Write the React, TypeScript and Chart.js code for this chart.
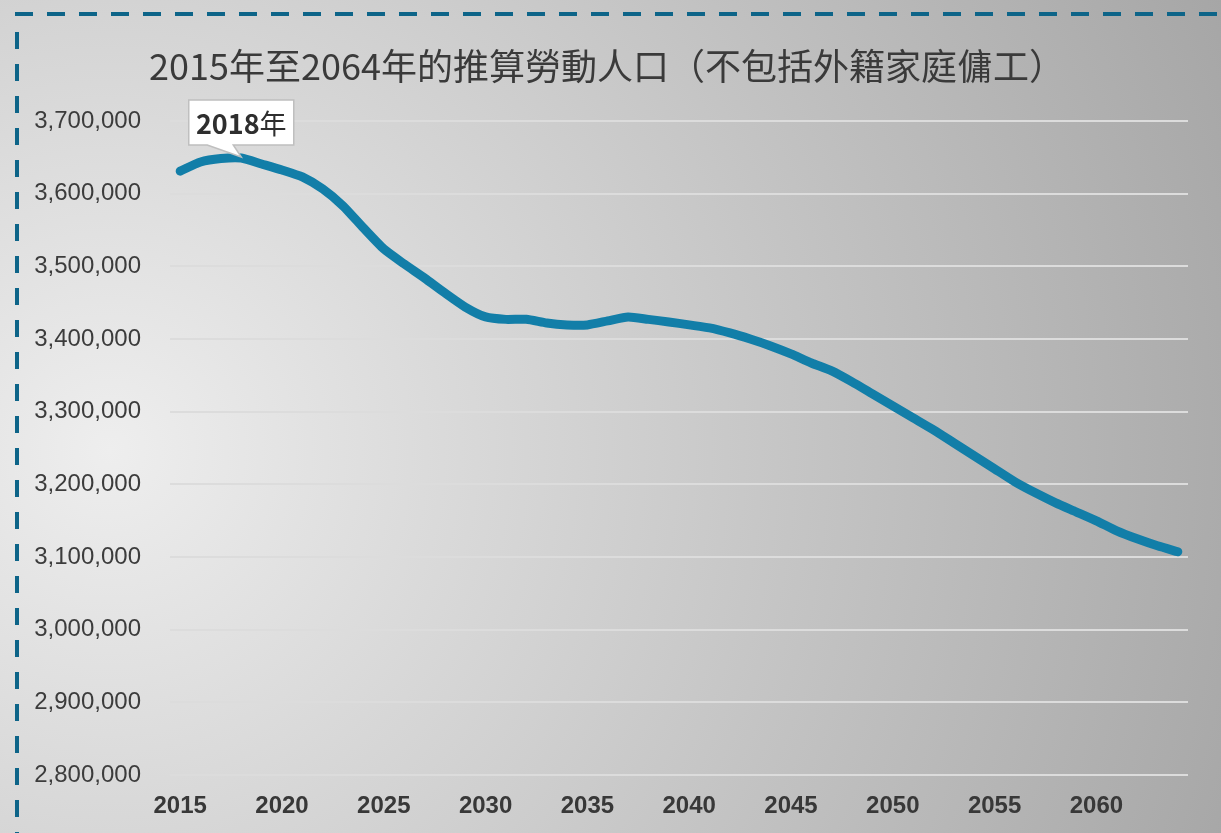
import React, { useEffect, useRef } from "react";
import { Chart, registerables } from "chart.js";

Chart.register(...registerables);

const years: string[] = [
  "2015", "2016", "2017", "2018", "2019", "2020", "2021", "2022", "2023", "2024",
  "2025", "2026", "2027", "2028", "2029", "2030", "2031", "2032", "2033", "2034",
  "2035", "2036", "2037", "2038", "2039", "2040", "2041", "2042", "2043", "2044",
  "2045", "2046", "2047", "2048", "2049", "2050", "2051", "2052", "2053", "2054",
  "2055", "2056", "2057", "2058", "2059", "2060", "2061", "2062", "2063", "2064",
];

const labourForce: number[] = [
  3631000, 3643600, 3648400, 3649100, 3640900, 3632600, 3623000, 3606500, 3583100, 3552800,
  3523900, 3503300, 3484000, 3463400, 3444000, 3430400, 3427000, 3427200, 3422000, 3419400,
  3419400, 3424900, 3430400, 3427000, 3423500, 3419400, 3415300, 3408400, 3400000, 3390500,
  3379500, 3367000, 3356100, 3341000, 3324500, 3308000, 3291500, 3275000, 3257100, 3239200,
  3221300, 3203400, 3188300, 3174500, 3162200, 3149800, 3136000, 3125000, 3115400, 3107200,
];

const titleText = "2015年至2064年的推算勞動人口（不包括外籍家庭傭工）";
const calloutYear = "2018";
const calloutSuffix = "年";
const yMin = 2800000;
const yMax = 3700000;
const yStep = 100000;

const W = 1221;
const H = 833;

const backgroundPlugin = {
  id: "pageBackground",
  beforeDraw(chart: any) {
    const ctx = chart.ctx as CanvasRenderingContext2D;
    ctx.save();
    const g = ctx.createRadialGradient(110, 450, 0, 110, 450, 1250);
    g.addColorStop(0, "#eeeeee");
    g.addColorStop(1, "#a3a3a3");
    ctx.fillStyle = g;
    ctx.fillRect(0, 0, chart.width, chart.height);
    ctx.strokeStyle = "#0d6488";
    ctx.lineWidth = 4;
    ctx.setLineDash([18, 14]);
    ctx.beginPath();
    ctx.moveTo(15, 14);
    ctx.lineTo(chart.width + 20, 14);
    ctx.stroke();
    ctx.setLineDash([17, 15]);
    ctx.beginPath();
    ctx.moveTo(17, 32);
    ctx.lineTo(17, chart.height + 20);
    ctx.stroke();
    ctx.fillStyle = "#3a3a3a";
    ctx.textAlign = "center";
    ctx.textBaseline = "middle";
    ctx.font = '36px "Noto Sans CJK TC", "Noto Sans", sans-serif';
    ctx.fillText(titleText, 607, 66);
    ctx.restore();
  },
};

const calloutPlugin = {
  id: "callout",
  afterDatasetsDraw(chart: any) {
    const idx = years.indexOf(calloutYear);
    const meta = chart.getDatasetMeta(0);
    const pt = meta.data[idx];
    if (!pt) return;
    const ctx = chart.ctx as CanvasRenderingContext2D;
    const px = pt.x;
    const py = pt.y - 1;
    const bw = 105;
    const bh = 45;
    const bx = px - bw / 2;
    const by = py - 12 - bh;
    ctx.save();
    ctx.fillStyle = "#ffffff";
    ctx.strokeStyle = "#bfbfbf";
    ctx.lineWidth = 1.5;
    ctx.beginPath();
    ctx.moveTo(bx, by);
    ctx.lineTo(bx + bw, by);
    ctx.lineTo(bx + bw, by + bh);
    ctx.lineTo(px - 8, by + bh);
    ctx.lineTo(px, py);
    ctx.lineTo(px - 34, by + bh);
    ctx.lineTo(bx, by + bh);
    ctx.closePath();
    ctx.fill();
    ctx.stroke();
    ctx.fillStyle = "#2e2e2e";
    ctx.textBaseline = "middle";
    ctx.textAlign = "left";
    const boldFont = 'bold 27px "Noto Sans CJK TC", "Noto Sans", sans-serif';
    const normFont = '27px "Noto Sans CJK TC", "Noto Sans", sans-serif';
    ctx.font = boldFont;
    const w1 = ctx.measureText(calloutYear).width;
    ctx.font = normFont;
    const w2 = ctx.measureText(calloutSuffix).width;
    const sx = px - (w1 + w2) / 2;
    const ty = by + bh / 2 + 1;
    ctx.font = boldFont;
    ctx.fillText(calloutYear, sx, ty);
    ctx.font = normFont;
    ctx.fillText(calloutSuffix, sx + w1, ty);
    ctx.restore();
  },
};

export default function App() {
  const ref = useRef<HTMLCanvasElement | null>(null);

  useEffect(() => {
    if (!ref.current) return;
    document.body.style.margin = "0";
    const chart = new Chart(ref.current, {
      type: "line",
      data: {
        labels: years,
        datasets: [
          {
            label: "推算勞動人口",
            data: labourForce,
            borderColor: "#127ea8",
            backgroundColor: "#127ea8",
            borderWidth: 9,
            borderCapStyle: "round",
            borderJoinStyle: "round",
            pointRadius: 0,
            tension: 0.2,
            fill: false,
          },
        ],
      },
      options: {
        responsive: false,
        animation: false,
        events: [],
        layout: { padding: { left: 0, right: 33, top: 121, bottom: 0 } },
        plugins: {
          legend: { display: false },
          tooltip: { enabled: false },
          title: { display: false },
        },
        scales: {
          x: {
            type: "category",
            offset: true,
            grid: { display: false, drawTicks: false },
            border: { display: false },
            afterFit: (scale: any) => {
              scale.height = 58;
            },
            ticks: {
              autoSkip: false,
              maxRotation: 0,
              padding: 17,
              color: "#383838",
              font: { family: '"Liberation Sans", Arial, sans-serif', size: 24, weight: "bold", lineHeight: 1.2 },
              callback: (_v: any, i: number) => (Number(years[i]) % 5 === 0 ? years[i] : ""),
            },
          },
          y: {
            min: yMin,
            max: yMax,
            grid: { color: "#dcdcdc", lineWidth: 2, drawTicks: false },
            border: { display: false },
            afterFit: (scale: any) => {
              scale.width = 170;
            },
            ticks: {
              stepSize: yStep,
              padding: 29,
              color: "#3c3c3c",
              font: { family: '"Liberation Sans", Arial, sans-serif', size: 24, lineHeight: 1.2 },
              callback: (v: any) => Number(v).toLocaleString("en-US"),
            },
          },
        },
      },
      plugins: [backgroundPlugin, calloutPlugin],
    } as any);
    return () => chart.destroy();
  }, []);

  return (
    <div style={{ position: "fixed", left: 0, top: 0, width: W, height: H }}>
      <canvas ref={ref} width={W} height={H} style={{ width: W, height: H, display: "block" }} />
    </div>
  );
}
